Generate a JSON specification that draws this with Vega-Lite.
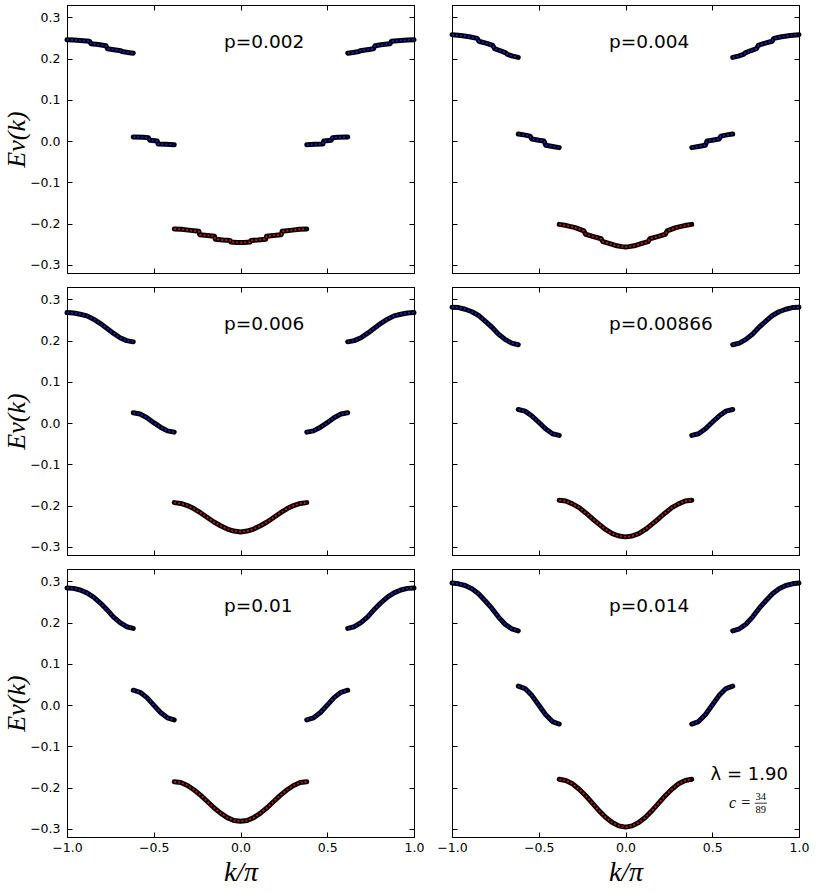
{
  "$schema": "https://vega.github.io/schema/vega-lite/v6.json",
  "padding": {"left": 3, "top": 4, "right": 5, "bottom": 5},
  "background": "white",
  "datasets": {
    "labels": [
      {"p": "0.002", "label": "p=0.002"},
      {"p": "0.004", "label": "p=0.004"},
      {"p": "0.006", "label": "p=0.006"},
      {"p": "0.00866", "label": "p=0.00866"},
      {"p": "0.01", "label": "p=0.01"},
      {"p": "0.014", "label": "p=0.014"}
    ],
    "bands": [
      {"p":"0.002","seg":"Ul","k":-1,"E":0.246},{"p":"0.002","seg":"Ul","k":-0.962,"E":0.245},{"p":"0.002","seg":"Ul","k":-0.924,"E":0.244},{"p":"0.002","seg":"Ul","k":-0.87,"E":0.242},{"p":"0.002","seg":"Ul","k":-0.862,"E":0.236},{"p":"0.002","seg":"Ul","k":-0.82,"E":0.234},{"p":"0.002","seg":"Ul","k":-0.775,"E":0.231},{"p":"0.002","seg":"Ul","k":-0.767,"E":0.224},{"p":"0.002","seg":"Ul","k":-0.72,"E":0.221},{"p":"0.002","seg":"Ul","k":-0.69,"E":0.219},{"p":"0.002","seg":"Ul","k":-0.682,"E":0.217},{"p":"0.002","seg":"Ul","k":-0.65,"E":0.215},{"p":"0.002","seg":"Ul","k":-0.618,"E":0.213},
      {"p":"0.002","seg":"Ur","k":0.618,"E":0.213},{"p":"0.002","seg":"Ur","k":0.65,"E":0.215},{"p":"0.002","seg":"Ur","k":0.682,"E":0.217},{"p":"0.002","seg":"Ur","k":0.69,"E":0.219},{"p":"0.002","seg":"Ur","k":0.72,"E":0.221},{"p":"0.002","seg":"Ur","k":0.767,"E":0.224},{"p":"0.002","seg":"Ur","k":0.775,"E":0.231},{"p":"0.002","seg":"Ur","k":0.82,"E":0.234},{"p":"0.002","seg":"Ur","k":0.862,"E":0.236},{"p":"0.002","seg":"Ur","k":0.87,"E":0.242},{"p":"0.002","seg":"Ur","k":0.924,"E":0.244},{"p":"0.002","seg":"Ur","k":0.962,"E":0.245},{"p":"0.002","seg":"Ur","k":1,"E":0.246},
      {"p":"0.002","seg":"Ml","k":-0.618,"E":0.010},{"p":"0.002","seg":"Ml","k":-0.56,"E":0.009},{"p":"0.002","seg":"Ml","k":-0.53,"E":0.008},{"p":"0.002","seg":"Ml","k":-0.523,"E":0.002},{"p":"0.002","seg":"Ml","k":-0.48,"E":0.0},{"p":"0.002","seg":"Ml","k":-0.475,"E":-0.007},{"p":"0.002","seg":"Ml","k":-0.43,"E":-0.008},{"p":"0.002","seg":"Ml","k":-0.382,"E":-0.009},
      {"p":"0.002","seg":"Mr","k":0.382,"E":-0.009},{"p":"0.002","seg":"Mr","k":0.43,"E":-0.008},{"p":"0.002","seg":"Mr","k":0.475,"E":-0.007},{"p":"0.002","seg":"Mr","k":0.48,"E":0.0},{"p":"0.002","seg":"Mr","k":0.523,"E":0.002},{"p":"0.002","seg":"Mr","k":0.53,"E":0.008},{"p":"0.002","seg":"Mr","k":0.56,"E":0.009},{"p":"0.002","seg":"Mr","k":0.618,"E":0.010},
      {"p":"0.002","seg":"L","k":-0.382,"E":-0.213},{"p":"0.002","seg":"L","k":-0.34,"E":-0.214},{"p":"0.002","seg":"L","k":-0.3,"E":-0.216},{"p":"0.002","seg":"L","k":-0.24,"E":-0.219},{"p":"0.002","seg":"L","k":-0.235,"E":-0.227},{"p":"0.002","seg":"L","k":-0.19,"E":-0.229},{"p":"0.002","seg":"L","k":-0.15,"E":-0.231},{"p":"0.002","seg":"L","k":-0.145,"E":-0.238},{"p":"0.002","seg":"L","k":-0.1,"E":-0.240},{"p":"0.002","seg":"L","k":-0.06,"E":-0.241},{"p":"0.002","seg":"L","k":-0.055,"E":-0.245},{"p":"0.002","seg":"L","k":-0.02,"E":-0.246},{"p":"0.002","seg":"L","k":0,"E":-0.246},{"p":"0.002","seg":"L","k":0.02,"E":-0.246},{"p":"0.002","seg":"L","k":0.055,"E":-0.245},{"p":"0.002","seg":"L","k":0.06,"E":-0.241},{"p":"0.002","seg":"L","k":0.1,"E":-0.240},{"p":"0.002","seg":"L","k":0.145,"E":-0.238},{"p":"0.002","seg":"L","k":0.15,"E":-0.231},{"p":"0.002","seg":"L","k":0.19,"E":-0.229},{"p":"0.002","seg":"L","k":0.235,"E":-0.227},{"p":"0.002","seg":"L","k":0.24,"E":-0.219},{"p":"0.002","seg":"L","k":0.3,"E":-0.216},{"p":"0.002","seg":"L","k":0.34,"E":-0.214},{"p":"0.002","seg":"L","k":0.382,"E":-0.213},

      {"p":"0.004","seg":"Ul","k":-1,"E":0.258},{"p":"0.004","seg":"Ul","k":-0.95,"E":0.256},{"p":"0.004","seg":"Ul","k":-0.9,"E":0.253},{"p":"0.004","seg":"Ul","k":-0.855,"E":0.249},{"p":"0.004","seg":"Ul","k":-0.845,"E":0.242},{"p":"0.004","seg":"Ul","k":-0.8,"E":0.237},{"p":"0.004","seg":"Ul","k":-0.765,"E":0.232},{"p":"0.004","seg":"Ul","k":-0.755,"E":0.224},{"p":"0.004","seg":"Ul","k":-0.72,"E":0.219},{"p":"0.004","seg":"Ul","k":-0.69,"E":0.214},{"p":"0.004","seg":"Ul","k":-0.68,"E":0.210},{"p":"0.004","seg":"Ul","k":-0.65,"E":0.206},{"p":"0.004","seg":"Ul","k":-0.618,"E":0.203},
      {"p":"0.004","seg":"Ur","k":0.618,"E":0.203},{"p":"0.004","seg":"Ur","k":0.65,"E":0.206},{"p":"0.004","seg":"Ur","k":0.68,"E":0.210},{"p":"0.004","seg":"Ur","k":0.69,"E":0.214},{"p":"0.004","seg":"Ur","k":0.72,"E":0.219},{"p":"0.004","seg":"Ur","k":0.755,"E":0.224},{"p":"0.004","seg":"Ur","k":0.765,"E":0.232},{"p":"0.004","seg":"Ur","k":0.8,"E":0.237},{"p":"0.004","seg":"Ur","k":0.845,"E":0.242},{"p":"0.004","seg":"Ur","k":0.855,"E":0.249},{"p":"0.004","seg":"Ur","k":0.9,"E":0.253},{"p":"0.004","seg":"Ur","k":0.95,"E":0.256},{"p":"0.004","seg":"Ur","k":1,"E":0.258},
      {"p":"0.004","seg":"Ml","k":-0.618,"E":0.017},{"p":"0.004","seg":"Ml","k":-0.585,"E":0.015},{"p":"0.004","seg":"Ml","k":-0.55,"E":0.012},{"p":"0.004","seg":"Ml","k":-0.54,"E":0.005},{"p":"0.004","seg":"Ml","k":-0.5,"E":0.002},{"p":"0.004","seg":"Ml","k":-0.47,"E":0.0},{"p":"0.004","seg":"Ml","k":-0.46,"E":-0.010},{"p":"0.004","seg":"Ml","k":-0.42,"E":-0.013},{"p":"0.004","seg":"Ml","k":-0.382,"E":-0.016},
      {"p":"0.004","seg":"Mr","k":0.382,"E":-0.016},{"p":"0.004","seg":"Mr","k":0.42,"E":-0.013},{"p":"0.004","seg":"Mr","k":0.46,"E":-0.010},{"p":"0.004","seg":"Mr","k":0.47,"E":0.0},{"p":"0.004","seg":"Mr","k":0.5,"E":0.002},{"p":"0.004","seg":"Mr","k":0.54,"E":0.005},{"p":"0.004","seg":"Mr","k":0.55,"E":0.012},{"p":"0.004","seg":"Mr","k":0.585,"E":0.015},{"p":"0.004","seg":"Mr","k":0.618,"E":0.017},
      {"p":"0.004","seg":"L","k":-0.382,"E":-0.202},{"p":"0.004","seg":"L","k":-0.34,"E":-0.205},{"p":"0.004","seg":"L","k":-0.29,"E":-0.210},{"p":"0.004","seg":"L","k":-0.24,"E":-0.218},{"p":"0.004","seg":"L","k":-0.23,"E":-0.226},{"p":"0.004","seg":"L","k":-0.19,"E":-0.231},{"p":"0.004","seg":"L","k":-0.14,"E":-0.237},{"p":"0.004","seg":"L","k":-0.13,"E":-0.244},{"p":"0.004","seg":"L","k":-0.09,"E":-0.249},{"p":"0.004","seg":"L","k":-0.05,"E":-0.254},{"p":"0.004","seg":"L","k":-0.02,"E":-0.256},{"p":"0.004","seg":"L","k":0,"E":-0.257},{"p":"0.004","seg":"L","k":0.02,"E":-0.256},{"p":"0.004","seg":"L","k":0.05,"E":-0.254},{"p":"0.004","seg":"L","k":0.09,"E":-0.249},{"p":"0.004","seg":"L","k":0.13,"E":-0.244},{"p":"0.004","seg":"L","k":0.14,"E":-0.237},{"p":"0.004","seg":"L","k":0.19,"E":-0.231},{"p":"0.004","seg":"L","k":0.23,"E":-0.226},{"p":"0.004","seg":"L","k":0.24,"E":-0.218},{"p":"0.004","seg":"L","k":0.29,"E":-0.210},{"p":"0.004","seg":"L","k":0.34,"E":-0.205},{"p":"0.004","seg":"L","k":0.382,"E":-0.202},

      {"p":"0.006","seg":"Ul","k":-1,"E":0.268},{"p":"0.006","seg":"Ul","k":-0.962,"E":0.267},{"p":"0.006","seg":"Ul","k":-0.924,"E":0.264},{"p":"0.006","seg":"Ul","k":-0.885,"E":0.260},{"p":"0.006","seg":"Ul","k":-0.847,"E":0.252},{"p":"0.006","seg":"Ul","k":-0.809,"E":0.242},{"p":"0.006","seg":"Ul","k":-0.771,"E":0.230},{"p":"0.006","seg":"Ul","k":-0.733,"E":0.218},{"p":"0.006","seg":"Ul","k":-0.694,"E":0.207},{"p":"0.006","seg":"Ul","k":-0.656,"E":0.200},{"p":"0.006","seg":"Ul","k":-0.618,"E":0.197},
      {"p":"0.006","seg":"Ur","k":0.618,"E":0.197},{"p":"0.006","seg":"Ur","k":0.656,"E":0.200},{"p":"0.006","seg":"Ur","k":0.694,"E":0.207},{"p":"0.006","seg":"Ur","k":0.733,"E":0.218},{"p":"0.006","seg":"Ur","k":0.771,"E":0.230},{"p":"0.006","seg":"Ur","k":0.809,"E":0.242},{"p":"0.006","seg":"Ur","k":0.847,"E":0.252},{"p":"0.006","seg":"Ur","k":0.885,"E":0.260},{"p":"0.006","seg":"Ur","k":0.924,"E":0.264},{"p":"0.006","seg":"Ur","k":0.962,"E":0.267},{"p":"0.006","seg":"Ur","k":1,"E":0.268},
      {"p":"0.006","seg":"Ml","k":-0.618,"E":0.025},{"p":"0.006","seg":"Ml","k":-0.579,"E":0.022},{"p":"0.006","seg":"Ml","k":-0.539,"E":0.013},{"p":"0.006","seg":"Ml","k":-0.5,"E":0.001},{"p":"0.006","seg":"Ml","k":-0.461,"E":-0.010},{"p":"0.006","seg":"Ml","k":-0.421,"E":-0.019},{"p":"0.006","seg":"Ml","k":-0.382,"E":-0.022},
      {"p":"0.006","seg":"Mr","k":0.382,"E":-0.022},{"p":"0.006","seg":"Mr","k":0.421,"E":-0.019},{"p":"0.006","seg":"Mr","k":0.461,"E":-0.010},{"p":"0.006","seg":"Mr","k":0.5,"E":0.001},{"p":"0.006","seg":"Mr","k":0.539,"E":0.013},{"p":"0.006","seg":"Mr","k":0.579,"E":0.022},{"p":"0.006","seg":"Mr","k":0.618,"E":0.025},
      {"p":"0.006","seg":"L","k":-0.382,"E":-0.193},{"p":"0.006","seg":"L","k":-0.344,"E":-0.195},{"p":"0.006","seg":"L","k":-0.306,"E":-0.200},{"p":"0.006","seg":"L","k":-0.267,"E":-0.208},{"p":"0.006","seg":"L","k":-0.229,"E":-0.218},{"p":"0.006","seg":"L","k":-0.191,"E":-0.229},{"p":"0.006","seg":"L","k":-0.153,"E":-0.240},{"p":"0.006","seg":"L","k":-0.115,"E":-0.249},{"p":"0.006","seg":"L","k":-0.076,"E":-0.257},{"p":"0.006","seg":"L","k":-0.038,"E":-0.262},{"p":"0.006","seg":"L","k":0,"E":-0.264},{"p":"0.006","seg":"L","k":0.038,"E":-0.262},{"p":"0.006","seg":"L","k":0.076,"E":-0.257},{"p":"0.006","seg":"L","k":0.115,"E":-0.249},{"p":"0.006","seg":"L","k":0.153,"E":-0.240},{"p":"0.006","seg":"L","k":0.191,"E":-0.229},{"p":"0.006","seg":"L","k":0.229,"E":-0.218},{"p":"0.006","seg":"L","k":0.267,"E":-0.208},{"p":"0.006","seg":"L","k":0.306,"E":-0.200},{"p":"0.006","seg":"L","k":0.344,"E":-0.195},{"p":"0.006","seg":"L","k":0.382,"E":-0.193},

      {"p":"0.00866","seg":"Ul","k":-1,"E":0.281},{"p":"0.00866","seg":"Ul","k":-0.962,"E":0.280},{"p":"0.00866","seg":"Ul","k":-0.924,"E":0.276},{"p":"0.00866","seg":"Ul","k":-0.885,"E":0.270},{"p":"0.00866","seg":"Ul","k":-0.847,"E":0.261},{"p":"0.00866","seg":"Ul","k":-0.809,"E":0.247},{"p":"0.00866","seg":"Ul","k":-0.771,"E":0.233},{"p":"0.00866","seg":"Ul","k":-0.733,"E":0.216},{"p":"0.00866","seg":"Ul","k":-0.694,"E":0.203},{"p":"0.00866","seg":"Ul","k":-0.656,"E":0.194},{"p":"0.00866","seg":"Ul","k":-0.618,"E":0.190},
      {"p":"0.00866","seg":"Ur","k":0.618,"E":0.190},{"p":"0.00866","seg":"Ur","k":0.656,"E":0.194},{"p":"0.00866","seg":"Ur","k":0.694,"E":0.203},{"p":"0.00866","seg":"Ur","k":0.733,"E":0.216},{"p":"0.00866","seg":"Ur","k":0.771,"E":0.233},{"p":"0.00866","seg":"Ur","k":0.809,"E":0.247},{"p":"0.00866","seg":"Ur","k":0.847,"E":0.261},{"p":"0.00866","seg":"Ur","k":0.885,"E":0.270},{"p":"0.00866","seg":"Ur","k":0.924,"E":0.276},{"p":"0.00866","seg":"Ur","k":0.962,"E":0.280},{"p":"0.00866","seg":"Ur","k":1,"E":0.281},
      {"p":"0.00866","seg":"Ml","k":-0.618,"E":0.033},{"p":"0.00866","seg":"Ml","k":-0.579,"E":0.029},{"p":"0.00866","seg":"Ml","k":-0.539,"E":0.017},{"p":"0.00866","seg":"Ml","k":-0.5,"E":0.002},{"p":"0.00866","seg":"Ml","k":-0.461,"E":-0.014},{"p":"0.00866","seg":"Ml","k":-0.421,"E":-0.026},{"p":"0.00866","seg":"Ml","k":-0.382,"E":-0.030},
      {"p":"0.00866","seg":"Mr","k":0.382,"E":-0.030},{"p":"0.00866","seg":"Mr","k":0.421,"E":-0.026},{"p":"0.00866","seg":"Mr","k":0.461,"E":-0.014},{"p":"0.00866","seg":"Mr","k":0.5,"E":0.002},{"p":"0.00866","seg":"Mr","k":0.539,"E":0.017},{"p":"0.00866","seg":"Mr","k":0.579,"E":0.029},{"p":"0.00866","seg":"Mr","k":0.618,"E":0.033},
      {"p":"0.00866","seg":"L","k":-0.382,"E":-0.187},{"p":"0.00866","seg":"L","k":-0.344,"E":-0.189},{"p":"0.00866","seg":"L","k":-0.306,"E":-0.196},{"p":"0.00866","seg":"L","k":-0.267,"E":-0.205},{"p":"0.00866","seg":"L","k":-0.229,"E":-0.218},{"p":"0.00866","seg":"L","k":-0.191,"E":-0.232},{"p":"0.00866","seg":"L","k":-0.153,"E":-0.245},{"p":"0.00866","seg":"L","k":-0.115,"E":-0.258},{"p":"0.00866","seg":"L","k":-0.076,"E":-0.268},{"p":"0.00866","seg":"L","k":-0.038,"E":-0.274},{"p":"0.00866","seg":"L","k":0,"E":-0.276},{"p":"0.00866","seg":"L","k":0.038,"E":-0.274},{"p":"0.00866","seg":"L","k":0.076,"E":-0.268},{"p":"0.00866","seg":"L","k":0.115,"E":-0.258},{"p":"0.00866","seg":"L","k":0.153,"E":-0.245},{"p":"0.00866","seg":"L","k":0.191,"E":-0.232},{"p":"0.00866","seg":"L","k":0.229,"E":-0.218},{"p":"0.00866","seg":"L","k":0.267,"E":-0.205},{"p":"0.00866","seg":"L","k":0.306,"E":-0.196},{"p":"0.00866","seg":"L","k":0.344,"E":-0.189},{"p":"0.00866","seg":"L","k":0.382,"E":-0.187},

      {"p":"0.01","seg":"Ul","k":-1,"E":0.284},{"p":"0.01","seg":"Ul","k":-0.962,"E":0.283},{"p":"0.01","seg":"Ul","k":-0.924,"E":0.279},{"p":"0.01","seg":"Ul","k":-0.885,"E":0.272},{"p":"0.01","seg":"Ul","k":-0.847,"E":0.262},{"p":"0.01","seg":"Ul","k":-0.809,"E":0.248},{"p":"0.01","seg":"Ul","k":-0.771,"E":0.232},{"p":"0.01","seg":"Ul","k":-0.733,"E":0.214},{"p":"0.01","seg":"Ul","k":-0.694,"E":0.200},{"p":"0.01","seg":"Ul","k":-0.656,"E":0.190},{"p":"0.01","seg":"Ul","k":-0.618,"E":0.186},
      {"p":"0.01","seg":"Ur","k":0.618,"E":0.186},{"p":"0.01","seg":"Ur","k":0.656,"E":0.190},{"p":"0.01","seg":"Ur","k":0.694,"E":0.200},{"p":"0.01","seg":"Ur","k":0.733,"E":0.214},{"p":"0.01","seg":"Ur","k":0.771,"E":0.232},{"p":"0.01","seg":"Ur","k":0.809,"E":0.248},{"p":"0.01","seg":"Ur","k":0.847,"E":0.262},{"p":"0.01","seg":"Ur","k":0.885,"E":0.272},{"p":"0.01","seg":"Ur","k":0.924,"E":0.279},{"p":"0.01","seg":"Ur","k":0.962,"E":0.283},{"p":"0.01","seg":"Ur","k":1,"E":0.284},
      {"p":"0.01","seg":"Ml","k":-0.618,"E":0.036},{"p":"0.01","seg":"Ml","k":-0.579,"E":0.031},{"p":"0.01","seg":"Ml","k":-0.539,"E":0.018},{"p":"0.01","seg":"Ml","k":-0.5,"E":0.0},{"p":"0.01","seg":"Ml","k":-0.461,"E":-0.018},{"p":"0.01","seg":"Ml","k":-0.421,"E":-0.031},{"p":"0.01","seg":"Ml","k":-0.382,"E":-0.036},
      {"p":"0.01","seg":"Mr","k":0.382,"E":-0.036},{"p":"0.01","seg":"Mr","k":0.421,"E":-0.031},{"p":"0.01","seg":"Mr","k":0.461,"E":-0.018},{"p":"0.01","seg":"Mr","k":0.5,"E":0.0},{"p":"0.01","seg":"Mr","k":0.539,"E":0.018},{"p":"0.01","seg":"Mr","k":0.579,"E":0.031},{"p":"0.01","seg":"Mr","k":0.618,"E":0.036},
      {"p":"0.01","seg":"L","k":-0.382,"E":-0.186},{"p":"0.01","seg":"L","k":-0.344,"E":-0.188},{"p":"0.01","seg":"L","k":-0.306,"E":-0.195},{"p":"0.01","seg":"L","k":-0.267,"E":-0.206},{"p":"0.01","seg":"L","k":-0.229,"E":-0.219},{"p":"0.01","seg":"L","k":-0.191,"E":-0.234},{"p":"0.01","seg":"L","k":-0.153,"E":-0.249},{"p":"0.01","seg":"L","k":-0.115,"E":-0.262},{"p":"0.01","seg":"L","k":-0.076,"E":-0.273},{"p":"0.01","seg":"L","k":-0.038,"E":-0.280},{"p":"0.01","seg":"L","k":0,"E":-0.282},{"p":"0.01","seg":"L","k":0.038,"E":-0.280},{"p":"0.01","seg":"L","k":0.076,"E":-0.273},{"p":"0.01","seg":"L","k":0.115,"E":-0.262},{"p":"0.01","seg":"L","k":0.153,"E":-0.249},{"p":"0.01","seg":"L","k":0.191,"E":-0.234},{"p":"0.01","seg":"L","k":0.229,"E":-0.219},{"p":"0.01","seg":"L","k":0.267,"E":-0.206},{"p":"0.01","seg":"L","k":0.306,"E":-0.195},{"p":"0.01","seg":"L","k":0.344,"E":-0.188},{"p":"0.01","seg":"L","k":0.382,"E":-0.186},

      {"p":"0.014","seg":"Ul","k":-1,"E":0.296},{"p":"0.014","seg":"Ul","k":-0.962,"E":0.294},{"p":"0.014","seg":"Ul","k":-0.924,"E":0.290},{"p":"0.014","seg":"Ul","k":-0.885,"E":0.282},{"p":"0.014","seg":"Ul","k":-0.847,"E":0.270},{"p":"0.014","seg":"Ul","k":-0.809,"E":0.253},{"p":"0.014","seg":"Ul","k":-0.771,"E":0.235},{"p":"0.014","seg":"Ul","k":-0.733,"E":0.214},{"p":"0.014","seg":"Ul","k":-0.694,"E":0.196},{"p":"0.014","seg":"Ul","k":-0.656,"E":0.185},{"p":"0.014","seg":"Ul","k":-0.618,"E":0.180},
      {"p":"0.014","seg":"Ur","k":0.618,"E":0.180},{"p":"0.014","seg":"Ur","k":0.656,"E":0.185},{"p":"0.014","seg":"Ur","k":0.694,"E":0.196},{"p":"0.014","seg":"Ur","k":0.733,"E":0.214},{"p":"0.014","seg":"Ur","k":0.771,"E":0.235},{"p":"0.014","seg":"Ur","k":0.809,"E":0.253},{"p":"0.014","seg":"Ur","k":0.847,"E":0.270},{"p":"0.014","seg":"Ur","k":0.885,"E":0.282},{"p":"0.014","seg":"Ur","k":0.924,"E":0.290},{"p":"0.014","seg":"Ur","k":0.962,"E":0.294},{"p":"0.014","seg":"Ur","k":1,"E":0.296},
      {"p":"0.014","seg":"Ml","k":-0.618,"E":0.046},{"p":"0.014","seg":"Ml","k":-0.579,"E":0.040},{"p":"0.014","seg":"Ml","k":-0.539,"E":0.023},{"p":"0.014","seg":"Ml","k":-0.5,"E":0.0},{"p":"0.014","seg":"Ml","k":-0.461,"E":-0.023},{"p":"0.014","seg":"Ml","k":-0.421,"E":-0.040},{"p":"0.014","seg":"Ml","k":-0.382,"E":-0.046},
      {"p":"0.014","seg":"Mr","k":0.382,"E":-0.046},{"p":"0.014","seg":"Mr","k":0.421,"E":-0.040},{"p":"0.014","seg":"Mr","k":0.461,"E":-0.023},{"p":"0.014","seg":"Mr","k":0.5,"E":0.0},{"p":"0.014","seg":"Mr","k":0.539,"E":0.023},{"p":"0.014","seg":"Mr","k":0.579,"E":0.040},{"p":"0.014","seg":"Mr","k":0.618,"E":0.046},
      {"p":"0.014","seg":"L","k":-0.382,"E":-0.180},{"p":"0.014","seg":"L","k":-0.344,"E":-0.183},{"p":"0.014","seg":"L","k":-0.306,"E":-0.191},{"p":"0.014","seg":"L","k":-0.267,"E":-0.204},{"p":"0.014","seg":"L","k":-0.229,"E":-0.220},{"p":"0.014","seg":"L","k":-0.191,"E":-0.238},{"p":"0.014","seg":"L","k":-0.153,"E":-0.256},{"p":"0.014","seg":"L","k":-0.115,"E":-0.272},{"p":"0.014","seg":"L","k":-0.076,"E":-0.285},{"p":"0.014","seg":"L","k":-0.038,"E":-0.293},{"p":"0.014","seg":"L","k":0,"E":-0.296},{"p":"0.014","seg":"L","k":0.038,"E":-0.293},{"p":"0.014","seg":"L","k":0.076,"E":-0.285},{"p":"0.014","seg":"L","k":0.115,"E":-0.272},{"p":"0.014","seg":"L","k":0.153,"E":-0.256},{"p":"0.014","seg":"L","k":0.191,"E":-0.238},{"p":"0.014","seg":"L","k":0.229,"E":-0.220},{"p":"0.014","seg":"L","k":0.267,"E":-0.204},{"p":"0.014","seg":"L","k":0.306,"E":-0.191},{"p":"0.014","seg":"L","k":0.344,"E":-0.183},{"p":"0.014","seg":"L","k":0.382,"E":-0.180}
    ]
  },
  "spacing": 12,
  "vconcat": [
    {
      "spacing": 38,
      "bounds": "flush",
      "hconcat": [
        {
          "width": 347, "height": 268,
          "layer": [
            {"data": {"name": "bands"}, "transform": [{"filter": "datum.p === '0.002'"}],
             "mark": {"type": "line", "color": "black", "strokeWidth": 5, "strokeCap": "round", "strokeJoin": "round"},
             "encoding": {
               "x": {"field": "k", "type": "quantitative", "scale": {"domain": [-1, 1], "nice": false, "zero": false}, "axis": {"orient": "bottom", "values": [-1, -0.5, 0, 0.5, 1], "labels": false, "title": null}},
               "y": {"field": "E", "type": "quantitative", "scale": {"domain": [-0.32, 0.33], "nice": false, "zero": false}, "axis": {"orient": "left", "values": [-0.3, -0.2, -0.1, 0, 0.1, 0.2, 0.3], "format": ".1f", "title": "Eν(k)"}},
               "detail": {"field": "seg"}}},
            {"data": {"name": "bands"}, "transform": [{"filter": "datum.p === '0.002'"}],
             "mark": {"type": "line", "strokeWidth": 1.8, "strokeDash": [2, 2]},
             "encoding": {
               "x": {"field": "k", "type": "quantitative", "axis": {"orient": "top", "values": [-1, -0.5, 0, 0.5, 1], "labels": false, "title": null}},
               "y": {"field": "E", "type": "quantitative", "axis": {"orient": "right", "values": [-0.3, -0.2, -0.1, 0, 0.1, 0.2, 0.3], "labels": false, "title": null}},
               "color": {"field": "seg", "type": "nominal", "scale": {"domain": ["Ul", "Ur", "Ml", "Mr", "L"], "range": ["#1c1cd8", "#1c1cd8", "#1c1cd8", "#1c1cd8", "#d41010"]}, "legend": null}}},
            {"data": {"name": "labels"}, "transform": [{"filter": "datum.p === '0.002'"}],
             "mark": {"type": "text", "align": "left", "baseline": "alphabetic", "fontSize": 18.5, "color": "black"},
             "encoding": {
               "x": {"datum": -0.095, "type": "quantitative", "axis": null},
               "y": {"datum": 0.226, "type": "quantitative", "axis": null},
               "text": {"field": "label"}}}
          ],
          "resolve": {"axis": {"x": "independent", "y": "independent"}}
        },
        {
          "width": 347, "height": 268,
          "layer": [
            {"data": {"name": "bands"}, "transform": [{"filter": "datum.p === '0.004'"}],
             "mark": {"type": "line", "color": "black", "strokeWidth": 5, "strokeCap": "round", "strokeJoin": "round"},
             "encoding": {
               "x": {"field": "k", "type": "quantitative", "scale": {"domain": [-1, 1], "nice": false, "zero": false}, "axis": {"orient": "bottom", "values": [-1, -0.5, 0, 0.5, 1], "labels": false, "title": null}},
               "y": {"field": "E", "type": "quantitative", "scale": {"domain": [-0.32, 0.33], "nice": false, "zero": false}, "axis": {"orient": "left", "values": [-0.3, -0.2, -0.1, 0, 0.1, 0.2, 0.3], "labels": false, "title": null}},
               "detail": {"field": "seg"}}},
            {"data": {"name": "bands"}, "transform": [{"filter": "datum.p === '0.004'"}],
             "mark": {"type": "line", "strokeWidth": 1.8, "strokeDash": [2, 2]},
             "encoding": {
               "x": {"field": "k", "type": "quantitative", "axis": {"orient": "top", "values": [-1, -0.5, 0, 0.5, 1], "labels": false, "title": null}},
               "y": {"field": "E", "type": "quantitative", "axis": {"orient": "right", "values": [-0.3, -0.2, -0.1, 0, 0.1, 0.2, 0.3], "labels": false, "title": null}},
               "color": {"field": "seg", "type": "nominal", "scale": {"domain": ["Ul", "Ur", "Ml", "Mr", "L"], "range": ["#1c1cd8", "#1c1cd8", "#1c1cd8", "#1c1cd8", "#d41010"]}, "legend": null}}},
            {"data": {"name": "labels"}, "transform": [{"filter": "datum.p === '0.004'"}],
             "mark": {"type": "text", "align": "left", "baseline": "alphabetic", "fontSize": 18.5, "color": "black"},
             "encoding": {
               "x": {"datum": -0.095, "type": "quantitative", "axis": null},
               "y": {"datum": 0.226, "type": "quantitative", "axis": null},
               "text": {"field": "label"}}}
          ],
          "resolve": {"axis": {"x": "independent", "y": "independent"}}
        }
      ]
    },
    {
      "spacing": 38,
      "bounds": "flush",
      "hconcat": [
        {
          "width": 347, "height": 268,
          "layer": [
            {"data": {"name": "bands"}, "transform": [{"filter": "datum.p === '0.006'"}],
             "mark": {"type": "line", "color": "black", "strokeWidth": 5, "strokeCap": "round", "strokeJoin": "round"},
             "encoding": {
               "x": {"field": "k", "type": "quantitative", "scale": {"domain": [-1, 1], "nice": false, "zero": false}, "axis": {"orient": "bottom", "values": [-1, -0.5, 0, 0.5, 1], "labels": false, "title": null}},
               "y": {"field": "E", "type": "quantitative", "scale": {"domain": [-0.32, 0.33], "nice": false, "zero": false}, "axis": {"orient": "left", "values": [-0.3, -0.2, -0.1, 0, 0.1, 0.2, 0.3], "format": ".1f", "title": "Eν(k)"}},
               "detail": {"field": "seg"}}},
            {"data": {"name": "bands"}, "transform": [{"filter": "datum.p === '0.006'"}],
             "mark": {"type": "line", "strokeWidth": 1.8, "strokeDash": [2, 2]},
             "encoding": {
               "x": {"field": "k", "type": "quantitative", "axis": {"orient": "top", "values": [-1, -0.5, 0, 0.5, 1], "labels": false, "title": null}},
               "y": {"field": "E", "type": "quantitative", "axis": {"orient": "right", "values": [-0.3, -0.2, -0.1, 0, 0.1, 0.2, 0.3], "labels": false, "title": null}},
               "color": {"field": "seg", "type": "nominal", "scale": {"domain": ["Ul", "Ur", "Ml", "Mr", "L"], "range": ["#1c1cd8", "#1c1cd8", "#1c1cd8", "#1c1cd8", "#d41010"]}, "legend": null}}},
            {"data": {"name": "labels"}, "transform": [{"filter": "datum.p === '0.006'"}],
             "mark": {"type": "text", "align": "left", "baseline": "alphabetic", "fontSize": 18.5, "color": "black"},
             "encoding": {
               "x": {"datum": -0.095, "type": "quantitative", "axis": null},
               "y": {"datum": 0.226, "type": "quantitative", "axis": null},
               "text": {"field": "label"}}}
          ],
          "resolve": {"axis": {"x": "independent", "y": "independent"}}
        },
        {
          "width": 347, "height": 268,
          "layer": [
            {"data": {"name": "bands"}, "transform": [{"filter": "datum.p === '0.00866'"}],
             "mark": {"type": "line", "color": "black", "strokeWidth": 5, "strokeCap": "round", "strokeJoin": "round"},
             "encoding": {
               "x": {"field": "k", "type": "quantitative", "scale": {"domain": [-1, 1], "nice": false, "zero": false}, "axis": {"orient": "bottom", "values": [-1, -0.5, 0, 0.5, 1], "labels": false, "title": null}},
               "y": {"field": "E", "type": "quantitative", "scale": {"domain": [-0.32, 0.33], "nice": false, "zero": false}, "axis": {"orient": "left", "values": [-0.3, -0.2, -0.1, 0, 0.1, 0.2, 0.3], "labels": false, "title": null}},
               "detail": {"field": "seg"}}},
            {"data": {"name": "bands"}, "transform": [{"filter": "datum.p === '0.00866'"}],
             "mark": {"type": "line", "strokeWidth": 1.8, "strokeDash": [2, 2]},
             "encoding": {
               "x": {"field": "k", "type": "quantitative", "axis": {"orient": "top", "values": [-1, -0.5, 0, 0.5, 1], "labels": false, "title": null}},
               "y": {"field": "E", "type": "quantitative", "axis": {"orient": "right", "values": [-0.3, -0.2, -0.1, 0, 0.1, 0.2, 0.3], "labels": false, "title": null}},
               "color": {"field": "seg", "type": "nominal", "scale": {"domain": ["Ul", "Ur", "Ml", "Mr", "L"], "range": ["#1c1cd8", "#1c1cd8", "#1c1cd8", "#1c1cd8", "#d41010"]}, "legend": null}}},
            {"data": {"name": "labels"}, "transform": [{"filter": "datum.p === '0.00866'"}],
             "mark": {"type": "text", "align": "left", "baseline": "alphabetic", "fontSize": 18.5, "color": "black"},
             "encoding": {
               "x": {"datum": -0.095, "type": "quantitative", "axis": null},
               "y": {"datum": 0.226, "type": "quantitative", "axis": null},
               "text": {"field": "label"}}}
          ],
          "resolve": {"axis": {"x": "independent", "y": "independent"}}
        }
      ]
    },
    {
      "spacing": 38,
      "bounds": "flush",
      "hconcat": [
        {
          "width": 347, "height": 268,
          "layer": [
            {"data": {"name": "bands"}, "transform": [{"filter": "datum.p === '0.01'"}],
             "mark": {"type": "line", "color": "black", "strokeWidth": 5, "strokeCap": "round", "strokeJoin": "round"},
             "encoding": {
               "x": {"field": "k", "type": "quantitative", "scale": {"domain": [-1, 1], "nice": false, "zero": false}, "axis": {"orient": "bottom", "values": [-1, -0.5, 0, 0.5, 1], "format": ".1f", "title": "k/π"}},
               "y": {"field": "E", "type": "quantitative", "scale": {"domain": [-0.32, 0.33], "nice": false, "zero": false}, "axis": {"orient": "left", "values": [-0.3, -0.2, -0.1, 0, 0.1, 0.2, 0.3], "format": ".1f", "title": "Eν(k)"}},
               "detail": {"field": "seg"}}},
            {"data": {"name": "bands"}, "transform": [{"filter": "datum.p === '0.01'"}],
             "mark": {"type": "line", "strokeWidth": 1.8, "strokeDash": [2, 2]},
             "encoding": {
               "x": {"field": "k", "type": "quantitative", "axis": {"orient": "top", "values": [-1, -0.5, 0, 0.5, 1], "labels": false, "title": null}},
               "y": {"field": "E", "type": "quantitative", "axis": {"orient": "right", "values": [-0.3, -0.2, -0.1, 0, 0.1, 0.2, 0.3], "labels": false, "title": null}},
               "color": {"field": "seg", "type": "nominal", "scale": {"domain": ["Ul", "Ur", "Ml", "Mr", "L"], "range": ["#1c1cd8", "#1c1cd8", "#1c1cd8", "#1c1cd8", "#d41010"]}, "legend": null}}},
            {"data": {"name": "labels"}, "transform": [{"filter": "datum.p === '0.01'"}],
             "mark": {"type": "text", "align": "left", "baseline": "alphabetic", "fontSize": 18.5, "color": "black"},
             "encoding": {
               "x": {"datum": -0.095, "type": "quantitative", "axis": null},
               "y": {"datum": 0.226, "type": "quantitative", "axis": null},
               "text": {"field": "label"}}}
          ],
          "resolve": {"axis": {"x": "independent", "y": "independent"}}
        },
        {
          "width": 347, "height": 268,
          "layer": [
            {"data": {"name": "bands"}, "transform": [{"filter": "datum.p === '0.014'"}],
             "mark": {"type": "line", "color": "black", "strokeWidth": 5, "strokeCap": "round", "strokeJoin": "round"},
             "encoding": {
               "x": {"field": "k", "type": "quantitative", "scale": {"domain": [-1, 1], "nice": false, "zero": false}, "axis": {"orient": "bottom", "values": [-1, -0.5, 0, 0.5, 1], "format": ".1f", "title": "k/π"}},
               "y": {"field": "E", "type": "quantitative", "scale": {"domain": [-0.32, 0.33], "nice": false, "zero": false}, "axis": {"orient": "left", "values": [-0.3, -0.2, -0.1, 0, 0.1, 0.2, 0.3], "labels": false, "title": null}},
               "detail": {"field": "seg"}}},
            {"data": {"name": "bands"}, "transform": [{"filter": "datum.p === '0.014'"}],
             "mark": {"type": "line", "strokeWidth": 1.8, "strokeDash": [2, 2]},
             "encoding": {
               "x": {"field": "k", "type": "quantitative", "axis": {"orient": "top", "values": [-1, -0.5, 0, 0.5, 1], "labels": false, "title": null}},
               "y": {"field": "E", "type": "quantitative", "axis": {"orient": "right", "values": [-0.3, -0.2, -0.1, 0, 0.1, 0.2, 0.3], "labels": false, "title": null}},
               "color": {"field": "seg", "type": "nominal", "scale": {"domain": ["Ul", "Ur", "Ml", "Mr", "L"], "range": ["#1c1cd8", "#1c1cd8", "#1c1cd8", "#1c1cd8", "#d41010"]}, "legend": null}}},
            {"data": {"name": "labels"}, "transform": [{"filter": "datum.p === '0.014'"}],
             "mark": {"type": "text", "align": "left", "baseline": "alphabetic", "fontSize": 18.5, "color": "black"},
             "encoding": {
               "x": {"datum": -0.095, "type": "quantitative", "axis": null},
               "y": {"datum": 0.226, "type": "quantitative", "axis": null},
               "text": {"field": "label"}}},
            {"data": {"values": [{"note": "λ = 1.90"}]},
             "mark": {"type": "text", "align": "center", "baseline": "middle", "fontSize": 18, "color": "black"},
             "encoding": {
               "x": {"datum": 0.713, "type": "quantitative", "axis": null},
               "y": {"datum": -0.170, "type": "quantitative", "axis": null},
               "text": {"field": "note"}}},
            {"data": {"values": [{"note": "c ="}]},
             "mark": {"type": "text", "align": "center", "baseline": "middle", "fontSize": 16, "font": "Liberation Serif", "fontStyle": "italic", "color": "black"},
             "encoding": {
               "x": {"datum": 0.66, "type": "quantitative", "axis": null},
               "y": {"datum": -0.238, "type": "quantitative", "axis": null},
               "text": {"field": "note"}}},
            {"data": {"values": [{"note": "34"}]},
             "mark": {"type": "text", "align": "center", "baseline": "middle", "fontSize": 10.5, "font": "Liberation Serif", "color": "black"},
             "encoding": {
               "x": {"datum": 0.779, "type": "quantitative", "axis": null},
               "y": {"datum": -0.222, "type": "quantitative", "axis": null},
               "text": {"field": "note"}}},
            {"data": {"values": [{"note": "89"}]},
             "mark": {"type": "text", "align": "center", "baseline": "middle", "fontSize": 10.5, "font": "Liberation Serif", "color": "black"},
             "encoding": {
               "x": {"datum": 0.779, "type": "quantitative", "axis": null},
               "y": {"datum": -0.255, "type": "quantitative", "axis": null},
               "text": {"field": "note"}}},
            {"data": {"values": [{"note": "bar"}]},
             "mark": {"type": "rule", "color": "black", "strokeWidth": 0.8},
             "encoding": {
               "x": {"datum": 0.745, "type": "quantitative", "axis": null},
               "x2": {"datum": 0.815},
               "y": {"datum": -0.238, "type": "quantitative", "axis": null}}}
          ],
          "resolve": {"axis": {"x": "independent", "y": "independent"}}
        }
      ]
    }
  ],
  "config": {
    "font": "DejaVu Sans",
    "view": {"stroke": "black", "strokeWidth": 1},
    "axis": {
      "grid": false,
      "domainColor": "black",
      "domainWidth": 1,
      "tickColor": "black",
      "tickSize": -5,
      "tickWidth": 1,
      "labelColor": "black",
      "labelFont": "DejaVu Sans",
      "labelFontSize": 12.5,
      "labelPadding": 12,
      "labelFlush": false,
      "labelOverlap": false,
      "titleColor": "black",
      "titleFont": "Liberation Serif",
      "titleFontStyle": "italic",
      "titleFontWeight": "normal",
      "titleFontSize": 28
    },
    "axisLeft": {"titlePadding": 0, "titleFontSize": 26},
    "axisBottom": {"titlePadding": 4, "labelPadding": 9.5}
  }
}
